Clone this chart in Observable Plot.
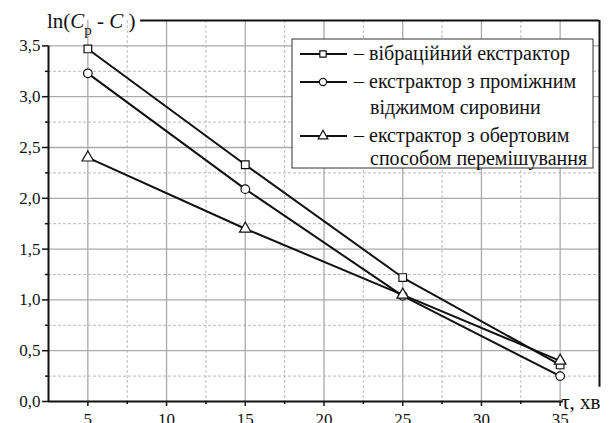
<!DOCTYPE html>
<html><head><meta charset="utf-8">
<script src="https://cdn.jsdelivr.net/npm/d3@7"></script>
<script src="https://cdn.jsdelivr.net/npm/@observablehq/plot@0.6"></script>
<style>
html,body{margin:0;padding:0;background:#fff;overflow:hidden;}
</style></head>
<body><div id="chart"></div>
<script>
const tau = [5, 15, 25, 35];
const vibr = [3.47, 2.33, 1.22, 0.36];
const press = [3.23, 2.09, 1.04, 0.25];
const rotat = [2.40, 1.70, 1.05, 0.40];
const seriesNames = ["вібраційний екстрактор", "екстрактор з проміжним|віджимом сировини", "екстрактор з обертовим|способом перемішування"];
const symbols = ["square", "circle", "triangle"];
const xMajor = [5, 10, 15, 20, 25, 30, 35];
const xMinor = [7.5, 12.5, 17.5, 22.5, 27.5, 32.5];
const yMajor = [0, 0.5, 1, 1.5, 2, 2.5, 3, 3.5];
const yMinor = [0.25, 0.75, 1.25, 1.75, 2.25, 2.75, 3.25];

const data = [];
[vibr, press, rotat].forEach((vals, s) => tau.forEach((t, i) => data.push({s, t, v: vals[i]})));

const fmt = d => d3.format(".1f")(d).replace(".", ",");
const ink = "#111";
const serif = "Liberation Serif";

const plot = Plot.plot({
  width: 611, height: 423,
  marginLeft: 48, marginRight: 12, marginTop: 20, marginBottom: 22,
  style: {fontSize: "17px", background: "#fff", color: "#111"},
  x: {domain: [2.5, 37.5]},
  y: {domain: [0, 3.75]},
  marks: [
    Plot.ruleX(xMinor, {stroke: "#bbb", strokeDasharray: "3,2", strokeWidth: 1}),
    Plot.ruleY(yMinor, {stroke: "#bbb", strokeDasharray: "3,2", strokeWidth: 1}),
    Plot.ruleX(xMajor, {stroke: "#aaa", strokeWidth: 1.3}),
    Plot.ruleY(yMajor.filter(d => d > 0), {stroke: "#aaa", strokeWidth: 1.3}),
    Plot.axisX(xMajor, {tickSize: 5, tickPadding: 6, tickFormat: d => String(d), fontSize: 17, label: null, strokeWidth: 1.5}),
    Plot.axisX(xMinor, {tickSize: 3, text: null, label: null, strokeWidth: 1.5}),
    Plot.axisY(yMajor, {tickSize: 6, tickPadding: 2, tickFormat: fmt, fontSize: 17, label: null, strokeWidth: 1.5}),
    Plot.axisY(yMinor, {tickSize: 3, text: null, label: null, strokeWidth: 1.5}),
    Plot.ruleY([0], {x1: 2.5, x2: 35.2, stroke: ink, strokeWidth: 2}),
    Plot.ruleX([2.5], {y1: 0, y2: 3.5, stroke: ink, strokeWidth: 2}),
    Plot.ruleY([3.75], {x1: 8.35, x2: 37.5, stroke: ink, strokeWidth: 2}),
    Plot.ruleX([37.5], {y1: 0.14, y2: 3.75, stroke: ink, strokeWidth: 2}),
    Plot.line(data, {x: "t", y: "v", z: "s", stroke: ink, strokeWidth: 2}),
    Plot.dot(data, {x: "t", y: "v", symbol: d => symbols[d.s], r: 4.3, fill: "#fff", stroke: ink, strokeWidth: 1.2}),
    Plot.text(["τ, хв"], {x: () => 35, y: () => 0, dx: 1, dy: 1, fontSize: 21, textAnchor: "start", fill: ink})
  ]
});
document.getElementById("chart").appendChild(plot);

const svg = d3.select(plot);
// axis label top left
const lab = svg.append("text").attr("x", 47).attr("y", 28).attr("font-size", 21).attr("fill", ink)
  .attr("text-anchor", "start");
lab.append("tspan").text("ln(");
lab.append("tspan").attr("font-style", "italic").text("C");
lab.append("tspan").attr("font-size", 15).attr("dy", 7).text("p");
lab.append("tspan").attr("dy", -7).text(" - ");
lab.append("tspan").attr("font-style", "italic").text("C");
lab.append("tspan").text(" )");

// legend
const lg = svg.append("g").attr("font-size", 20).attr("text-anchor", "start");
lg.append("rect").attr("x", 292).attr("y", 39).attr("width", 301).attr("height", 129)
  .style("fill", "#ffffff").style("stroke", "#333").style("stroke-width", "1px");
const rows = [54, 82, 136];
const contGap = [0, 26, 23];
const symMap = {square: d3.symbolSquare, circle: d3.symbolCircle, triangle: d3.symbolTriangle};
seriesNames.forEach((name, i) => {
  const y = rows[i];
  lg.append("line").attr("x1", 300).attr("x2", 347).attr("y1", y).attr("y2", y).style("stroke", ink).style("stroke-width", "2px");
  lg.append("path").attr("transform", `translate(323,${y})`)
    .attr("d", d3.symbol(symMap[symbols[i]], Math.PI * 3.6 * 3.6)())
    .style("fill", "#fff").style("stroke", ink).style("stroke-width", "1.2px");
  const parts = name.split("|");
  lg.append("text").attr("x", 354).attr("y", y + 6).style("fill", ink).text("– " + parts[0]);
  if (parts[1]) lg.append("text").attr("x", 370).attr("y", y + 6 + contGap[i]).style("fill", ink).text(parts[1]);
});
svg.selectAll("text, tspan").attr("font-family", serif);
</script></body></html>
